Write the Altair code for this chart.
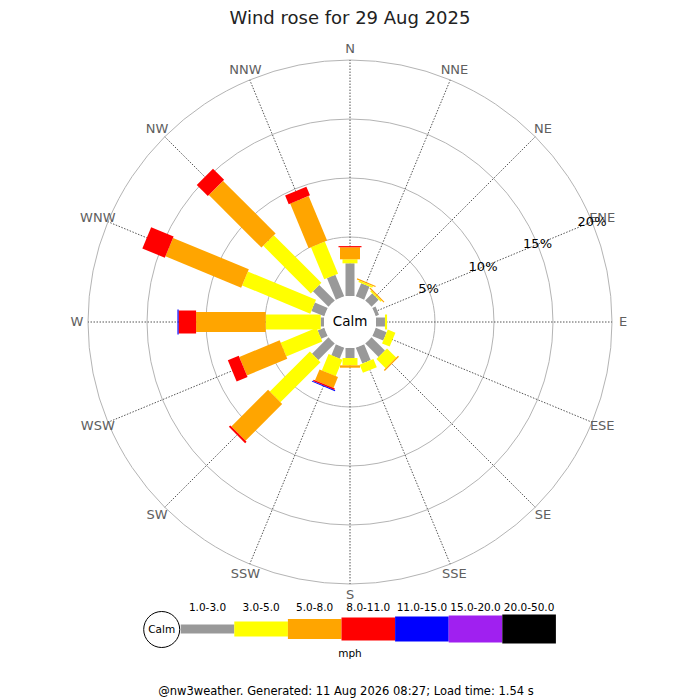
import math
import altair as alt
import pandas as pd

# ---------------- data ----------------
directions = ["N", "NNE", "NE", "ENE", "E", "ESE", "SE", "SSE",
              "S", "SSW", "SW", "WSW", "W", "WNW", "NW", "NNW"]
speed_classes = ["1.0-3.0", "3.0-5.0", "5.0-8.0", "8.0-11.0",
                 "11.0-15.0", "15.0-20.0", "20.0-50.0"]
# percentage of time per direction, per speed class (mph)
pct_1_3 = [2.77, 1.20, 0.85, 0.30, 0.76, 1.00, 1.60, 1.45,
           0.85, 1.00, 1.97, 0.60, 0.28, 1.18, 1.86, 1.97]
pct_3_5 = [0.34, 0.15, 0.12, 0.00, 0.18, 0.70, 1.10, 0.75,
           0.62, 1.50, 4.80, 3.30, 4.66, 6.25, 5.70, 2.94]
pct_5_8 = [1.02, 0.10, 0.10, 0.00, 0.00, 0.00, 0.12, 0.00,
           0.20, 1.00, 4.40, 3.70, 5.90, 6.95, 6.30, 4.10]
pct_8_11 = [0.10, 0.00, 0.00, 0.00, 0.00, 0.00, 0.00, 0.00,
            0.00, 0.12, 0.17, 1.00, 1.48, 2.06, 1.33, 0.80]
pct_11_15 = [0.00, 0.00, 0.00, 0.00, 0.00, 0.00, 0.00, 0.00,
             0.00, 0.08, 0.00, 0.00, 0.10, 0.00, 0.00, 0.00]
pct_15_20 = [0.0] * 16
pct_20_50 = [0.0] * 16
ring_pcts = [5, 10, 15, 20]
ring_labels = ["5%", "10%", "15%", "20%"]
title_text = "Wind rose for 29 Aug 2025"
footer_text = "@nw3weather. Generated: 11 Aug 2026 08:27; Load time: 1.54 s"
unit_text = "mph"
calm_text = "Calm"

# ---------------- styles / layout ----------------
class_colors = ["#999999", "#ffff00", "#ffa500", "#ff0000",
                "#0000ff", "#a020f0", "#000000"]
class_widths = [9, 15, 20, 23, 25, 27, 29]
FONT = "DejaVu Sans"
K = 11.8                 # pixels per percent
R0 = 26 / K              # calm circle radius (in % units)
R_OUT = R0 + 20
R_LAB = 273 / K
PAD_TOP = 16
OX, OY = 8, 8 + PAD_TOP  # page position of plot origin
W, H = 684, 700 - OY
CX, CY = 350 - OX, 322 - OY
xs = alt.Scale(domain=[-CX / K, (W - CX) / K], nice=False, zero=False)
ys = alt.Scale(domain=[-(H - CY) / K, CY / K], nice=False, zero=False)
rs = alt.Scale(type="linear", domain=[0, 20], range=[0, 20 * K])
cls_color = alt.Scale(domain=speed_classes, range=class_colors)
cls_width = alt.Scale(type="ordinal", domain=speed_classes, range=class_widths)


def ux(px):
    return (px - 350) / K


def uy(py):
    return (322 - py) / K


# ---------------- tables ----------------
series = [pct_1_3, pct_3_5, pct_5_8, pct_8_11, pct_11_15, pct_15_20, pct_20_50]
rows = []
for i, d in enumerate(directions):
    cum = R0
    for c, vals in zip(speed_classes, series):
        v = vals[i]
        if v > 0:
            rows.append({"dir": d, "idx": i, "cls": c, "r0": cum, "r1": cum + v})
        cum += v
bars_df = pd.DataFrame(rows)
dir_df = pd.DataFrame({"dir": directions, "idx": list(range(16))})
ring_df = pd.DataFrame({"p": ring_pcts, "label": ring_labels})
ring_df["r"] = ring_df["p"] + R0
ring_df["cx"] = 0.0
ring_df["cy"] = 0.0
calm_df = pd.DataFrame({"cx": [0.0], "cy": [0.0], "r": [R0], "t": [calm_text]})

LEG_X0 = ux(180.7)
LEG_W = 53.6 / K
LEG_Y = uy(629)
leg_df = pd.DataFrame({"cls": speed_classes, "i": list(range(len(speed_classes)))})

base = alt.Chart(dir_df)
X = lambda f: alt.X(f, scale=xs, axis=None)
Y = lambda f: alt.Y(f, scale=ys, axis=None)
RAD = lambda f: alt.Radius(f, scale=rs, stack=False)

rings = alt.Chart(ring_df).mark_arc(
    filled=False, stroke="#b4b4b4", strokeWidth=1, theta=0, theta2=2 * math.pi
).encode(x=X("cx:Q"), y=Y("cy:Q"), radius=RAD("r:Q"))

spokes = base.transform_calculate(
    th="datum.idx * PI / 8",
    x1=f"{R_OUT} * sin(datum.th)",
    y1=f"{R_OUT} * cos(datum.th)",
    zz="0",
).mark_rule(stroke="#555555", strokeWidth=1, strokeDash=[1.5, 1.5]).encode(
    x=X("zz:Q"), y=Y("zz:Q"), x2="x1:Q", y2="y1:Q"
)

bars = alt.Chart(bars_df).transform_calculate(
    th="datum.idx * PI / 8",
    xa="datum.r0 * sin(datum.th)",
    ya="datum.r0 * cos(datum.th)",
    xb="datum.r1 * sin(datum.th)",
    yb="datum.r1 * cos(datum.th)",
).mark_rule(strokeCap="butt").encode(
    x=X("xa:Q"), y=Y("ya:Q"), x2="xb:Q", y2="yb:Q",
    color=alt.Color("cls:N", scale=cls_color, legend=None),
    strokeWidth=alt.StrokeWidth("cls:N", scale=cls_width, legend=None),
)

calm_circle = alt.Chart(calm_df).mark_arc(
    fill="white", theta=0, theta2=2 * math.pi
).encode(x=X("cx:Q"), y=Y("cy:Q"), radius=RAD("r:Q"))

calm_label = alt.Chart(calm_df).mark_text(
    font=FONT, fontSize=13.5, color="black", align="center", baseline="middle"
).encode(x=X("cx:Q"), y=Y("cy:Q"), text="t:N")

dir_labels = base.transform_calculate(
    th="datum.idx * PI / 8",
    lx=f"{R_LAB} * sin(datum.th)",
    ly=f"{R_LAB} * cos(datum.th)",
).mark_text(font=FONT, fontSize=13, color="#606060", align="center", baseline="middle").encode(
    x=X("lx:Q"), y=Y("ly:Q"), text="dir:N"
)

pct_labels = alt.Chart(ring_df).transform_calculate(
    lx="datum.r * sin(3 * PI / 8)",
    ly="datum.r * cos(3 * PI / 8)",
).mark_text(font=FONT, fontSize=13, color="black", align="center", baseline="middle").encode(
    x=X("lx:Q"), y=Y("ly:Q"), text="label:N"
)

leg_bars = alt.Chart(leg_df).transform_calculate(
    xa=f"{LEG_X0} + datum.i * {LEG_W}",
    xb=f"{LEG_X0} + (datum.i + 1) * {LEG_W}",
    yy=f"{LEG_Y}",
).mark_rule(strokeCap="butt").encode(
    x=X("xa:Q"), x2="xb:Q", y=Y("yy:Q"),
    color=alt.Color("cls:N", scale=cls_color, legend=None),
    strokeWidth=alt.StrokeWidth("cls:N", scale=cls_width, legend=None),
)

leg_text = alt.Chart(leg_df).transform_calculate(
    xm=f"{LEG_X0} + (datum.i + 0.5) * {LEG_W}",
    yy=f"{uy(607.5)}",
).mark_text(font=FONT, fontSize=10.5, color="black", align="center", baseline="middle").encode(
    x=X("xm:Q"), y=Y("yy:Q"), text="cls:N"
)

leg_calm_df = pd.DataFrame({"cx": [ux(161.7)], "cy": [uy(629.5)], "r": [18 / K], "t": [calm_text]})
leg_calm = alt.Chart(leg_calm_df).mark_arc(
    fill="white", stroke="black", strokeWidth=1, theta=0, theta2=2 * math.pi
).encode(x=X("cx:Q"), y=Y("cy:Q"), radius=RAD("r:Q"))
leg_calm_text = alt.Chart(leg_calm_df).mark_text(
    font=FONT, fontSize=10.5, color="black", align="center", baseline="middle"
).encode(x=X("cx:Q"), y=Y("cy:Q"), text="t:N")

texts_df = pd.DataFrame({
    "t": [title_text, unit_text, footer_text],
    "kind": ["title", "unit", "footer"],
})
title_mark = alt.Chart(texts_df).transform_filter("datum.kind == 'title'").mark_text(
    font=FONT, fontSize=18, color="#222222", align="center", baseline="middle"
).encode(x=alt.value(350 - OX), y=alt.value(19 - OY), text="t:N")
unit_mark = alt.Chart(texts_df).transform_filter("datum.kind == 'unit'").mark_text(
    font=FONT, fontSize=10.5, color="black", align="center", baseline="middle"
).encode(x=alt.value(350 - OX), y=alt.value(654 - OY), text="t:N")
footer_mark = alt.Chart(texts_df).transform_filter("datum.kind == 'footer'").mark_text(
    font=FONT, fontSize=11.5, color="black", align="center", baseline="middle"
).encode(x=alt.value(346 - OX), y=alt.value(692 - OY), text="t:N")

chart = alt.layer(
    rings, spokes, bars, calm_circle, calm_label, dir_labels, pct_labels,
    leg_bars, leg_calm, leg_calm_text, leg_text, title_mark, unit_mark, footer_mark
).resolve_scale(color="shared", strokeWidth="shared").properties(
    width=W, height=H, autosize=alt.AutoSizeParams(type="none"),
    padding={"top": PAD_TOP, "left": 0, "right": 0, "bottom": 0}
).configure_view(strokeWidth=0)

chart.save("out.html", embed_options={"renderer": "svg", "actions": False})
